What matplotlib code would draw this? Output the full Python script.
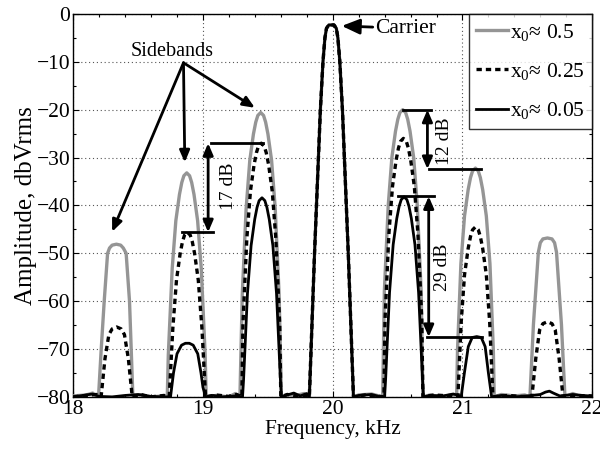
import matplotlib
matplotlib.use("Agg")
import matplotlib.pyplot as plt
from matplotlib.ticker import MultipleLocator

plt.rcParams['font.family'] = ['Liberation Serif', 'DejaVu Serif']
plt.rcParams['mathtext.fontset'] = 'custom'
plt.rcParams['mathtext.rm'] = 'Liberation Serif'
plt.rcParams['mathtext.it'] = 'Liberation Serif:italic'

# ---- data (frequency kHz, amplitude dBVrms) ----
carrier_x = [19.82, 19.86, 19.905, 19.925, 19.94, 19.952, 19.97, 20.01, 20.028, 20.04, 20.055, 20.075, 20.12, 20.16]
carrier_y = [-80, -50, -20, -10, -5, -3, -2.3, -2.3, -3, -5, -10, -20, -50, -80]

gray_x = [18.0, 18.1, 18.15, 18.18,
          18.195, 18.216, 18.239, 18.265, 18.28, 18.30, 18.333, 18.366, 18.386, 18.408, 18.434, 18.447, 18.46,
          18.52, 18.6, 18.69,
          18.725, 18.733, 18.763, 18.791, 18.819, 18.837, 18.853, 18.875, 18.897, 18.913, 18.931, 18.959, 18.987, 19.017, 19.025,
          19.1, 19.2, 19.25,
          19.285, 19.303, 19.333, 19.361, 19.389, 19.407, 19.423, 19.445, 19.467, 19.483, 19.501, 19.529, 19.557, 19.587, 19.605,
          19.65, 19.7, 19.78] + carrier_x + [
          20.2, 20.3,
          20.385, 20.398, 20.428, 20.456, 20.484, 20.502, 20.518, 20.54, 20.562, 20.578, 20.596, 20.624, 20.652, 20.682, 20.695,
          20.75, 20.85, 20.92,
          20.955, 20.962, 20.988, 21.016, 21.044, 21.062, 21.078, 21.1, 21.122, 21.138, 21.156, 21.184, 21.212, 21.238, 21.245,
          21.3, 21.4, 21.48,
          21.52, 21.547, 21.585, 21.60, 21.62, 21.655, 21.69, 21.71, 21.725, 21.763, 21.79,
          21.85, 21.9, 22.0]
gray_y = [-79.8, -79.6, -79.2, -79.8,
          -80, -70, -60, -50, -48.9, -48.3, -48.1, -48.3, -48.9, -50, -60, -70, -80,
          -79.6, -80, -79.8,
          -80, -71.2, -53.2, -43.2, -37.7, -35.2, -33.8, -33.2, -33.8, -35.2, -37.7, -43.2, -53.2, -71.2, -80,
          -79.7, -80, -79.3,
          -80, -58.6, -40.6, -30.6, -25.1, -22.6, -21.2, -20.6, -21.2, -22.6, -25.1, -30.6, -40.6, -58.6, -80,
          -79.5, -79.8, -79.3] + carrier_y + [
          -79.6, -79.4,
          -80, -58, -40, -30, -24.5, -22, -20.6, -20, -20.6, -22, -24.5, -30, -40, -58, -80,
          -79.6, -80, -79.5,
          -80, -70.2, -52.2, -42.2, -36.7, -34.2, -32.8, -32.2, -32.8, -34.2, -36.7, -42.2, -52.2, -70.2, -80,
          -79.5, -79.8, -79.6,
          -80, -64.9, -49.8, -47.8, -47.0, -46.8, -47.0, -47.8, -49.8, -64.9, -80,
          -79.3, -79.8, -79.8]

dash_x = [18.0, 18.1, 18.18,
          18.215, 18.245, 18.275, 18.30, 18.335, 18.37, 18.395, 18.425, 18.455,
          18.52, 18.6, 18.7,
          18.74, 18.768, 18.796, 18.824, 18.842, 18.858, 18.88, 18.902, 18.918, 18.936, 18.964, 18.992, 19.02,
          19.1, 19.2, 19.26,
          19.30, 19.308, 19.338, 19.366, 19.394, 19.412, 19.428, 19.45, 19.472, 19.488, 19.506, 19.534, 19.562, 19.592, 19.60,
          19.65, 19.72] + carrier_x + [
          20.25, 20.33,
          20.395, 20.403, 20.433, 20.461, 20.489, 20.507, 20.523, 20.545, 20.567, 20.583, 20.601, 20.629, 20.657, 20.687, 20.695,
          20.78, 20.9,
          20.965, 20.99, 21.016, 21.044, 21.062, 21.078, 21.1, 21.122, 21.138, 21.156, 21.184, 21.21, 21.235,
          21.35, 21.45,
          21.535, 21.565, 21.595, 21.62, 21.655, 21.69, 21.715, 21.745, 21.775,
          21.85, 22.0]
dash_y = [-80, -79.7, -79.5,
          -80, -72, -67, -65.8, -65.4, -65.8, -67, -72, -80,
          -79.5, -80, -79.7,
          -80, -65.6, -55.6, -50.1, -47.6, -46.2, -45.6, -46.2, -47.6, -50.1, -55.6, -65.6, -80,
          -79.6, -79.9, -79.5,
          -80, -65, -47, -37, -31.5, -29, -27.6, -27, -27.6, -29, -31.5, -37, -47, -65, -80,
          -79.5, -79.8] + carrier_y + [
          -79.6, -79.8,
          -80, -64, -46, -36, -30.5, -28, -26.6, -26, -26.6, -28, -30.5, -36, -46, -64, -80,
          -79.6, -79.8,
          -80, -64.5, -54.5, -49, -46.5, -45.1, -44.5, -45.1, -46.5, -49, -54.5, -64.5, -80,
          -79.7, -79.9,
          -80, -72, -66, -64.7, -64.3, -64.7, -66, -72, -80,
          -79.7, -79.8]

black_x = [18.0, 18.05, 18.1, 18.15, 18.2, 18.3, 18.4, 18.5, 18.6, 18.7,
           18.75, 18.773, 18.80, 18.835, 18.865, 18.895, 18.925, 18.96, 18.985, 19.0, 19.02,
           19.08, 19.15, 19.25,
           19.305, 19.313, 19.343, 19.371, 19.399, 19.417, 19.433, 19.455, 19.477, 19.493, 19.511, 19.539, 19.567, 19.597, 19.605,
           19.65, 19.7, 19.75, 19.8] + carrier_x + [
           20.2, 20.3, 20.37,
           20.40, 20.408, 20.438, 20.466, 20.494, 20.512, 20.528, 20.55, 20.572, 20.588, 20.606, 20.634, 20.662, 20.692, 20.70,
           20.75, 20.85, 20.93, 20.97,
           20.99, 21.015, 21.045, 21.075, 21.11, 21.145, 21.175, 21.2, 21.225,
           21.3, 21.4, 21.5, 21.6, 21.64, 21.67, 21.7, 21.75, 21.85, 22.0]
black_y = [-80, -79.8, -79.6, -79.4, -79.9, -80, -79.7, -79.5, -79.9, -80,
           -80, -75, -71, -69.2, -68.8, -68.8, -69.2, -71, -75, -78, -80,
           -79.7, -80, -79.8,
           -80, -76.4, -58.4, -48.4, -42.9, -40.4, -39, -38.4, -39, -40.4, -42.9, -48.4, -58.4, -76.4, -80,
           -79.6, -79.2, -79.8, -79.3] + carrier_y + [
           -79.7, -79.5, -80,
           -80, -76.2, -58.2, -48.2, -42.7, -40.2, -38.8, -38.2, -38.8, -40.2, -42.7, -48.2, -58.2, -76.2, -80,
           -79.7, -79.8, -79.4, -79.7,
           -80, -75, -69.5, -67.6, -67.4, -67.6, -69.5, -75, -80,
           -79.7, -80, -79.8, -79.5, -79.0, -78.8, -79.2, -79.8, -79.5, -79.9]

labels = [r'x$_0$≈ 0.5', r'x$_0$≈ 0.25', r'x$_0$≈ 0.05']

# ---- figure ----
fig = plt.figure(figsize=(6.0, 4.51), dpi=100)
ax = fig.add_axes([0.122, 0.12, 0.865, 0.849])

ax.plot(gray_x, gray_y, color='#959595', lw=2.4, label=labels[0], zorder=3,
        solid_joinstyle='round')
ax.plot(dash_x, dash_y, color='black', lw=2.4, ls=(0, (1.6, 1.2)), label=labels[1], zorder=4)
ax.plot(black_x, black_y, color='black', lw=2.0, label=labels[2], zorder=5,
        solid_joinstyle='round')

ax.set_xlim(18, 22)
ax.set_ylim(-80, 0)
ax.xaxis.set_major_locator(MultipleLocator(1))
ax.xaxis.set_minor_locator(MultipleLocator(0.2))
ax.yaxis.set_major_locator(MultipleLocator(10))
ax.yaxis.set_minor_locator(MultipleLocator(5))
ax.tick_params(which='both', direction='in', top=True, right=True, labelsize=15.5,
               width=0.8, pad=2)
ax.tick_params(which='major', length=4)
ax.tick_params(which='minor', length=2.5)
ax.grid(True, which='major', ls=(0, (1, 2.5)), color='#555555', lw=0.8)
for s in ax.spines.values():
    s.set_linewidth(1.0)

ax.set_xlabel('Frequency, kHz', fontsize=15.5, labelpad=1)
ax.set_ylabel('Amplitude, dbVrms', fontsize=18, labelpad=0)

leg = ax.legend(loc='upper right', fontsize=15.5, frameon=True, fancybox=False,
                edgecolor='black', borderaxespad=0, handlelength=1.45,
                handletextpad=0.1, labelspacing=0.85, borderpad=0.35)
leg.get_frame().set_linewidth(1.0)
leg.set_zorder(10)

akw = dict(arrowstyle='-|>,head_length=0.7,head_width=0.3', color='black', lw=2.0,
           shrinkA=0, shrinkB=0)
dkw = dict(arrowstyle='<|-|>,head_length=0.7,head_width=0.3', color='black', lw=2.0,
           shrinkA=0, shrinkB=0)

# Carrier
ax.annotate('Carrier', xy=(20.07, -2.5), xytext=(20.33, -3.0), fontsize=15.5,
            va='center', ha='left', arrowprops=akw, zorder=8)

# Sidebands
ax.text(18.76, -7.8, 'Sidebands', fontsize=14.5, ha='center', va='center')
origin = (18.85, -10.2)
for tip in [(18.3, -45.5), (18.86, -31.0), (19.40, -19.6)]:
    ax.annotate('', xy=tip, xytext=origin, arrowprops=akw, zorder=8)

# 17 dB
ax.plot([19.06, 19.46], [-27, -27], color='black', lw=2.0, zorder=7)
ax.plot([18.84, 19.08], [-45.6, -45.6], color='black', lw=2.0, zorder=7)
ax.annotate('', xy=(19.04, -27), xytext=(19.04, -45.6), arrowprops=dkw, zorder=8)
ax.text(19.20, -36, '17 dB', rotation=90, fontsize=14, ha='center', va='center')

# 12 dB
ax.plot([20.54, 20.76], [-20, -20], color='black', lw=2.0, zorder=7)
ax.plot([20.74, 21.14], [-32.4, -32.4], color='black', lw=2.0, zorder=7)
ax.annotate('', xy=(20.73, -20), xytext=(20.73, -32.4), arrowprops=dkw, zorder=8)
ax.text(20.86, -26.5, '12 dB', rotation=90, fontsize=14, ha='center', va='center')

# 29 dB
ax.plot([20.50, 20.78], [-38.1, -38.1], color='black', lw=2.0, zorder=7)
ax.plot([20.73, 21.15], [-67.5, -67.5], color='black', lw=2.0, zorder=7)
ax.annotate('', xy=(20.74, -38.1), xytext=(20.74, -67.5), arrowprops=dkw, zorder=8)
ax.text(20.85, -53, '29 dB', rotation=90, fontsize=14, ha='center', va='center')

fig.savefig('out.png', dpi=100)
